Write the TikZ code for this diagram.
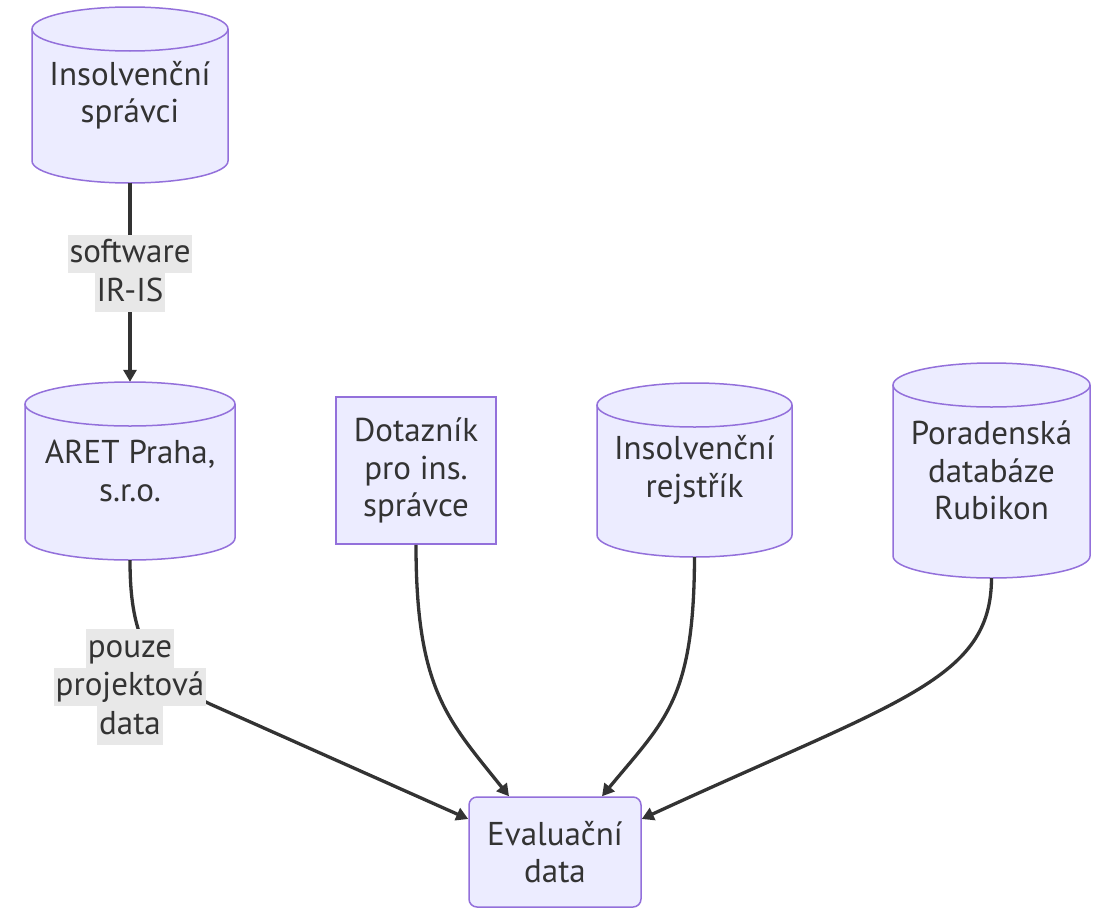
\documentclass[tikz,border=0pt]{standalone}
\usepackage{fontspec}
\setmainfont{PT Sans}
\usetikzlibrary{arrows.meta}
\definecolor{nodefill}{HTML}{ECECFF}
\definecolor{nodestroke}{HTML}{9370DB}
\definecolor{edgec}{HTML}{333333}
\definecolor{lblfill}{HTML}{E8E8E8}
\definecolor{txtc}{HTML}{333333}
\tikzset{
  txtnode/.style={inner sep=0pt, align=center, text=txtc, font=\fontsize{33}{37.5}\selectfont},
  boxnode/.style={txtnode, fill=nodefill, draw=nodestroke, line width=1.5pt},
  lbl/.style={fill=lblfill, inner xsep=2pt, inner ysep=0pt, minimum height=38.5pt, text height=24pt, text depth=7pt, text=txtc, font=\fontsize{33}{37.5}\selectfont},
  edge/.style={draw=edgec, line width=3.3pt, -{Triangle[length=12pt,width=13pt]}},
}
\newcommand\dbcyl[7]{%
 \pgfmathsetmacro\cylL{#2-#3}\pgfmathsetmacro\cylR{#2+#3}%
 \pgfmathsetmacro\cylT{#4+#6}\pgfmathsetmacro\cylB{#5-#6}%
 \pgfmathsetmacro\cylK{0.5523*#6}\pgfmathsetmacro\cylKa{0.5523*#3}%
 \fill[nodefill] (\cylL,\cylT) rectangle (\cylR,\cylB);
 \fill[nodefill] (#2,\cylB) ellipse[x radius=#3, y radius=#6];
 \draw[nodestroke, line width=1.5pt] (\cylL,\cylT) -- (\cylL,\cylB) .. controls (\cylL,\cylB+\cylK) and (#2-\cylKa,#5) .. (#2,#5) .. controls (#2+\cylKa,#5) and (\cylR,\cylB+\cylK) .. (\cylR,\cylB) -- (\cylR,\cylT);
 \filldraw[fill=nodefill, draw=nodestroke, line width=1.5pt] (#2,\cylT) ellipse[x radius=#3, y radius=#6];
 \node[txtnode, minimum width=2*#3, minimum height=#5-#4] (#1) at (#2,{(#4+#5)/2}) {#7};
}
\begin{document}
\begin{tikzpicture}[x=1pt,y=-1pt]
\useasboundingbox (0,0) rectangle (1099,910);
\fill[white] (0,0) rectangle (1099,910);
% nodes
\dbcyl{c1}{130}{98}{7}{183}{22}{Insolvenční\\správci}
\dbcyl{c2}{130}{105}{382}{560}{22}{ARET Praha,\\s.r.o.}
\dbcyl{c3}{694.5}{97.5}{383}{557}{22}{Insolvenční\\rejstřík}
\dbcyl{c4}{991.5}{98.5}{363}{578}{22}{Poradenská\\databáze\\Rubikon}
\node[boxnode, minimum width=160pt, minimum height=147pt] (dq) at (416,470.5) {Dotazník\\pro ins.\\správce};
\node[boxnode, rounded corners=8pt, minimum width=172pt, minimum height=110pt] (ev) at (555,852) {Evaluační\\data};
% edges
\draw[edge] (c1.south) -- (c2.north);
\draw[edge] (c2.south) .. controls (130,640) and (150,675) .. (210,704) -- ([yshift=33pt]ev.west);
\draw[edge] (dq.south) .. controls (416,690) and (448,720) .. ([xshift=-46pt]ev.north);
\draw[edge] (c3.south) .. controls (694,700) and (665,720) .. ([xshift=47pt]ev.north);
\draw[edge] (c4.south) .. controls (991,680) and (900,700) .. ([yshift=33pt]ev.east);
% labels
\node[lbl] (l1a) at (130,254) {software};
\node[lbl] (l1b) at (130,292.5) {IR-IS};
\node[lbl] (l2a) at (130,648.5) {pouze};
\node[lbl] (l2b) at (130,687) {projektová};
\node[lbl] (l2c) at (130,725.5) {data};
\end{tikzpicture}
\end{document}
